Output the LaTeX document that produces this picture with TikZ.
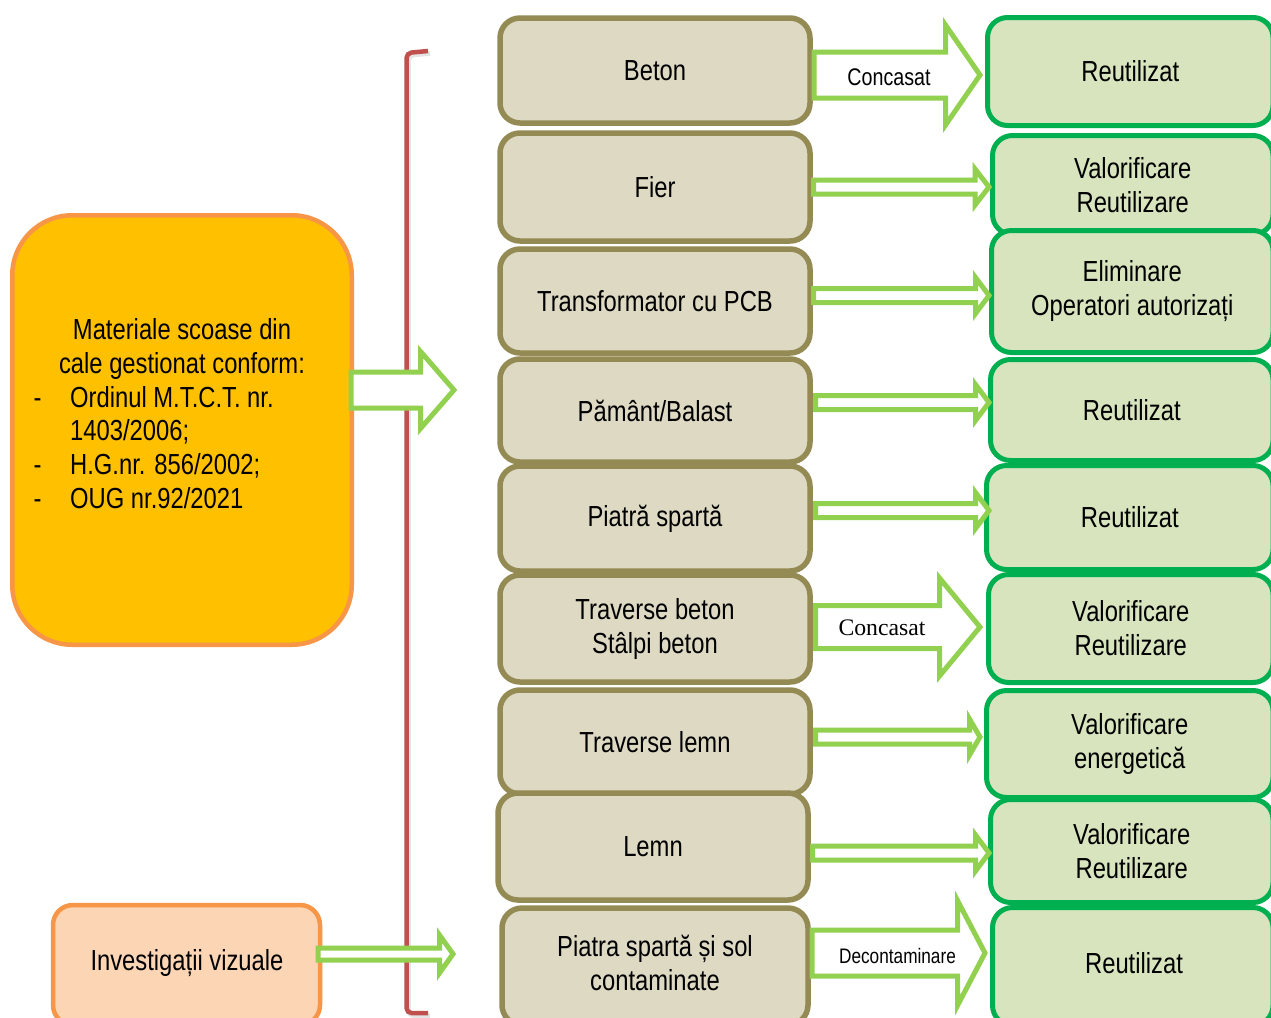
\documentclass[tikz,border=0pt]{standalone}
\usepackage{fontspec}
\setmainfont{Liberation Sans}[FakeStretch=0.82]
\newfontfamily\serifc{Liberation Serif}
\definecolor{tanfill}{HTML}{DDD9C3}
\definecolor{tanline}{HTML}{948A54}
\definecolor{grfill}{HTML}{D7E4BD}
\definecolor{grline}{HTML}{00B050}
\definecolor{orfill}{HTML}{FFC000}
\definecolor{orline}{HTML}{F79646}
\definecolor{pefill}{HTML}{FCD5B5}
\definecolor{arline}{HTML}{92D050}
\definecolor{brline}{HTML}{C0504D}
\newcommand\bigf{\fontsize{29}{34}\selectfont}
\newcommand\blockarrow[6]{%
  \draw[blockarr] ({#1},{#4-#5}) -- ({#2},{#4-#5}) -- ({#2},{#4-#6}) -- ({#3},{#4})
     -- ({#2},{#4+#6}) -- ({#2},{#4+#5}) -- ({#1},{#4+#5}) -- cycle;}
\begin{document}
\begin{tikzpicture}[x=1pt,y=-1pt,
  midbox/.style={draw=tanline, fill=tanfill, line width=5.5pt, rounded corners=20pt,
    inner sep=0pt, outer sep=0pt, align=center, font=\bigf},
  resbox/.style={draw=grline, fill=grfill, line width=5pt, rounded corners=20pt,
    inner sep=0pt, outer sep=0pt, align=center, font=\bigf},
  txt/.style={inner sep=0pt, font=\bigf, align=center},
  blockarr/.style={draw=arline, fill=white, line width=5pt, line join=miter},
  lbl/.style={inner sep=0pt}]
\useasboundingbox (0,0) rectangle (1271,1017);
\clip (0,0) rectangle (1271,1017);
\fill[white] (0,0) rectangle (1271,1017);

% left boxes
\node[draw=orline, fill=orfill, line width=4.5pt, rounded corners=60pt,
  minimum width=339.5pt, minimum height=429.5pt, inner sep=0pt] (lb) at (182,430) {};
\node[txt, anchor=base] (l1) at (182,339.5) {Materiale scoase din};
\node[txt, anchor=base] (l2) at (182,373.5) {cale gestionat conform:};
\node[txt, anchor=base] (d1) at (37.5,407) {-};
\node[txt, anchor=base west] (l3) at (70,407) {Ordinul M.T.C.T. nr.};
\node[txt, anchor=base west] (l4) at (70,440.5) {1403/2006;};
\node[txt, anchor=base] (d2) at (37.5,474.5) {-};
\node[txt, anchor=base west] (l5) at (70,474.5) {H.G.nr. 856/2002;};
\node[txt, anchor=base] (d3) at (37.5,508) {-};
\node[txt, anchor=base west] (l6) at (70,508) {OUG nr.92/2021};

\node[draw=orline, fill=pefill, line width=4.5pt, rounded corners=20pt,
  minimum width=267pt, minimum height=120pt, inner sep=0pt] (ib) at (186.5,965) {};
\node[txt] (ibt) at (187,963) {Investigații vizuale};

% bracket
\draw[black!30, line width=4.5pt, rounded corners=5pt, opacity=0.35]
  (430,53.5) -- (408.5,55.5) -- (408.5,1015.5) -- (430,1015.5);
\draw[brline, line width=4.5pt, rounded corners=5pt]
  (428,51) -- (406.5,53) -- (406.5,1013) -- (428,1013);

% middle boxes
\node[midbox, minimum width=310pt, minimum height=105pt] (m1) at (655,70.5) {Beton};
\node[midbox, minimum width=310pt, minimum height=108pt] (m2) at (655,187) {Fier};
\node[midbox, minimum width=310pt, minimum height=104pt] (m3) at (655,301) {Transformator cu PCB};
\node[midbox, minimum width=310pt, minimum height=103pt] (m4) at (655,410.5) {Pământ/Balast};
\node[midbox, minimum width=310pt, minimum height=105pt] (m5) at (655,518.5) {Piatră spartă};
\node[midbox, minimum width=310pt, minimum height=107pt] (m6) at (655,628.5) {Traverse beton\\Stâlpi beton};
\node[midbox, minimum width=310pt, minimum height=104pt] (m7) at (655,742) {Traverse lemn};
\node[midbox, minimum width=310pt, minimum height=107pt] (m8) at (653,846.5) {Lemn};
\node[midbox, minimum width=306pt, minimum height=117pt] (m9) at (655,966.5) {};
\node[txt] (m9t) at (655,963) {Piatra spartă și sol\\contaminate};

% result boxes
\node[resbox, minimum width=285.5pt, minimum height=108pt] (r1) at (1130.25,71.5) {Reutilizat};
\node[resbox, minimum width=280.5pt, minimum height=99pt] (r2) at (1132.75,185) {Valorificare\\Reutilizare};
\node[resbox, minimum width=281.5pt, minimum height=122pt] (r3) at (1132.25,291.5) {Eliminare\\Operatori autorizați};
\node[resbox, minimum width=282.5pt, minimum height=101pt] (r4) at (1131.75,410) {Reutilizat};
\node[resbox, minimum width=286.5pt, minimum height=104pt] (r5) at (1129.75,517.5) {Reutilizat};
\node[resbox, minimum width=284.5pt, minimum height=108pt] (r6) at (1130.75,628.5) {Valorificare\\Reutilizare};
\node[resbox, minimum width=286.5pt, minimum height=107pt] (r7) at (1129.75,744) {Valorificare\\energetică};
\node[resbox, minimum width=282.5pt, minimum height=103pt] (r8) at (1131.75,851) {Valorificare\\Reutilizare};
\node[resbox, minimum width=280.5pt, minimum height=118pt] (r9) at (1132.75,966.5) {};
\node[txt] (r9t) at (1134,963) {Reutilizat};

% block arrows
\blockarrow{351}{420.5}{454}{390}{18}{38.5}
\blockarrow{318}{439.5}{453}{954}{6}{19}
\blockarrow{814}{945.5}{980}{75}{23}{50}
\blockarrow{813.5}{975}{989}{187}{7}{18}
\blockarrow{813.5}{975.5}{989}{295.5}{7}{18}
\blockarrow{815.5}{975.5}{989}{402.5}{7}{18}
\blockarrow{815.5}{975.5}{989}{510.5}{7}{18}
\blockarrow{815.5}{939.5}{980}{627}{21.5}{49}
\blockarrow{815.5}{969.5}{980}{737}{7}{18}
\blockarrow{812.5}{975.5}{989}{853}{7}{18}
\blockarrow{812}{957.5}{985}{953}{23}{52.5}

\node[lbl, font=\fontsize{24}{28}\selectfont] (c1) at (889,77.5) {Concasat};
\node[lbl, font=\fontsize{23.7}{28}\serifc] (c2) at (882,628) {Concasat};
\node[lbl, font=\fontsize{21}{25}\selectfont] (c3) at (897.5,955.5) {Decontaminare};
\end{tikzpicture}
\end{document}
